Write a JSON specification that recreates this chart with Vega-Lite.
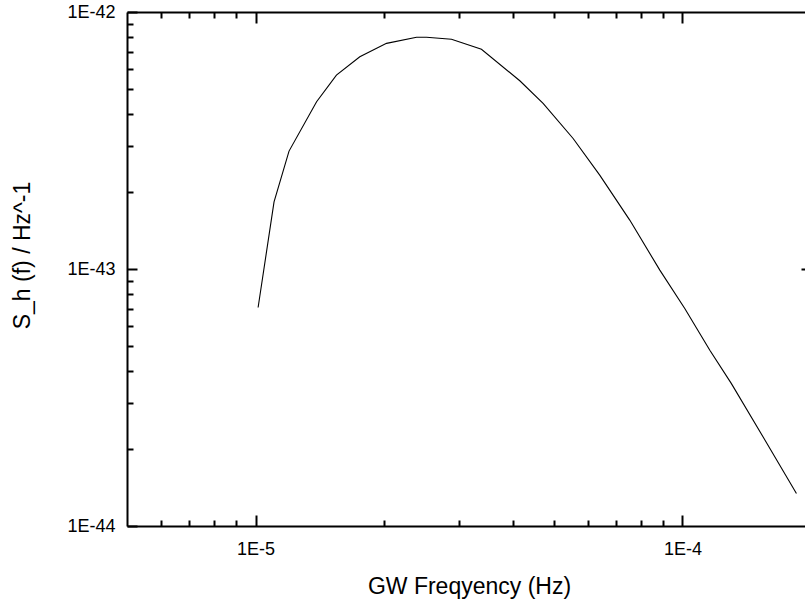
{
  "$schema": "https://vega.github.io/schema/vega-lite/v6.json",
  "width": 684,
  "height": 514,
  "autosize": {"type": "none"},
  "padding": {"left": 127, "top": 12, "right": 0, "bottom": 77},
  "background": "white",
  "config": {
    "view": {"stroke": null},
    "font": "Liberation Sans",
    "axis": {
      "domainColor": "black",
      "domainWidth": 2,
      "tickColor": "black",
      "labelColor": "black",
      "titleColor": "black",
      "labelFont": "Liberation Sans",
      "titleFont": "Liberation Sans",
      "labelFontSize": 18,
      "titleFontSize": 23,
      "titleFontWeight": "normal",
      "grid": false,
      "labelFlush": false,
      "labelOverlap": false
    }
  },
  "data": {
    "values": [
      {"f": 1.014e-5, "S": 7.08e-44},
      {"f": 1.105e-5, "S": 1.825e-43},
      {"f": 1.198e-5, "S": 2.876e-43},
      {"f": 1.39e-5, "S": 4.477e-43},
      {"f": 1.547e-5, "S": 5.68e-43},
      {"f": 1.755e-5, "S": 6.70e-43},
      {"f": 2.027e-5, "S": 7.55e-43},
      {"f": 2.383e-5, "S": 7.97e-43},
      {"f": 2.515e-5, "S": 7.98e-43},
      {"f": 2.877e-5, "S": 7.83e-43},
      {"f": 3.382e-5, "S": 7.16e-43},
      {"f": 4.159e-5, "S": 5.40e-43},
      {"f": 4.716e-5, "S": 4.41e-43},
      {"f": 5.545e-5, "S": 3.22e-43},
      {"f": 6.40e-5, "S": 2.32e-43},
      {"f": 7.525e-5, "S": 1.55e-43},
      {"f": 8.85e-5, "S": 9.90e-44},
      {"f": 1.0125e-4, "S": 7.02e-44},
      {"f": 1.159e-4, "S": 4.83e-44},
      {"f": 1.302e-4, "S": 3.58e-44},
      {"f": 1.545e-4, "S": 2.22e-44},
      {"f": 1.849e-4, "S": 1.337e-44}
    ]
  },
  "resolve": {"axis": {"x": "independent", "y": "independent"}},
  "layer": [
    {
      "mark": {"type": "line", "color": "black", "strokeWidth": 1.1, "clip": true},
      "encoding": {
        "x": {
          "field": "f", "type": "quantitative",
          "scale": {"type": "log", "domain": [5e-6, 2e-4], "nice": false},
          "axis": {
            "orient": "bottom",
            "title": "GW Freqyency (Hz)",
            "titlePadding": 12,
            "values": [6e-6, 7e-6, 8e-6, 9e-6, 1e-5, 2e-5, 3e-5, 4e-5, 5e-5, 6e-5, 7e-5, 8e-5, 9e-5, 1e-4],
            "labelExpr": "abs(log(datum.value)/LN10 - round(log(datum.value)/LN10)) < 0.001 ? '1E' + round(log(datum.value)/LN10) : ''",
            "tickWidth": 2,
            "tickSize": {"condition": {"test": "abs(log(datum.value)/LN10 - round(log(datum.value)/LN10)) < 0.001", "value": -11}, "value": -6},
            "labelPadding": 25
          }
        },
        "y": {
          "field": "S", "type": "quantitative",
          "scale": {"type": "log", "domain": [1e-44, 1e-42], "nice": false},
          "axis": {
            "orient": "left",
            "title": "S_h (f) / Hz^-1",
            "titlePadding": 32,
            "titleY": 243,
            "values": [1e-44, 2e-44, 3e-44, 4e-44, 5e-44, 6e-44, 7e-44, 8e-44, 9e-44, 1e-43, 2e-43, 3e-43, 4e-43, 5e-43, 6e-43, 7e-43, 8e-43, 9e-43, 1e-42],
            "labelExpr": "abs(log(datum.value)/LN10 - round(log(datum.value)/LN10)) < 0.001 ? '1E' + round(log(datum.value)/LN10) : ''",
            "tickWidth": 2,
            "tickSize": {"condition": {"test": "abs(log(datum.value)/LN10 - round(log(datum.value)/LN10)) < 0.001", "value": -10}, "value": -6},
            "labelPadding": 22
          }
        }
      }
    },
    {
      "mark": {"type": "line", "color": "black", "strokeOpacity": 0, "clip": true},
      "encoding": {
        "x": {
          "field": "f", "type": "quantitative",
          "axis": {
            "orient": "top",
            "title": null,
            "labels": false,
            "values": [6e-6, 7e-6, 8e-6, 9e-6, 1e-5, 2e-5, 3e-5, 4e-5, 5e-5, 6e-5, 7e-5, 8e-5, 9e-5, 1e-4],
            "tickWidth": 2,
            "tickSize": {"condition": {"test": "abs(log(datum.value)/LN10 - round(log(datum.value)/LN10)) < 0.001", "value": -11}, "value": -6}
          }
        },
        "y": {
          "field": "S", "type": "quantitative",
          "axis": {
            "orient": "right",
            "title": null,
            "labels": false,
            "values": [2e-44, 3e-44, 4e-44, 5e-44, 6e-44, 7e-44, 8e-44, 9e-44, 1e-43, 2e-43, 3e-43, 4e-43, 5e-43, 6e-43, 7e-43, 8e-43, 9e-43],
            "tickWidth": 2,
            "tickSize": {"condition": {"test": "abs(log(datum.value)/LN10 - round(log(datum.value)/LN10)) < 0.001", "value": -10}, "value": -6}
          }
        }
      }
    }
  ]
}
